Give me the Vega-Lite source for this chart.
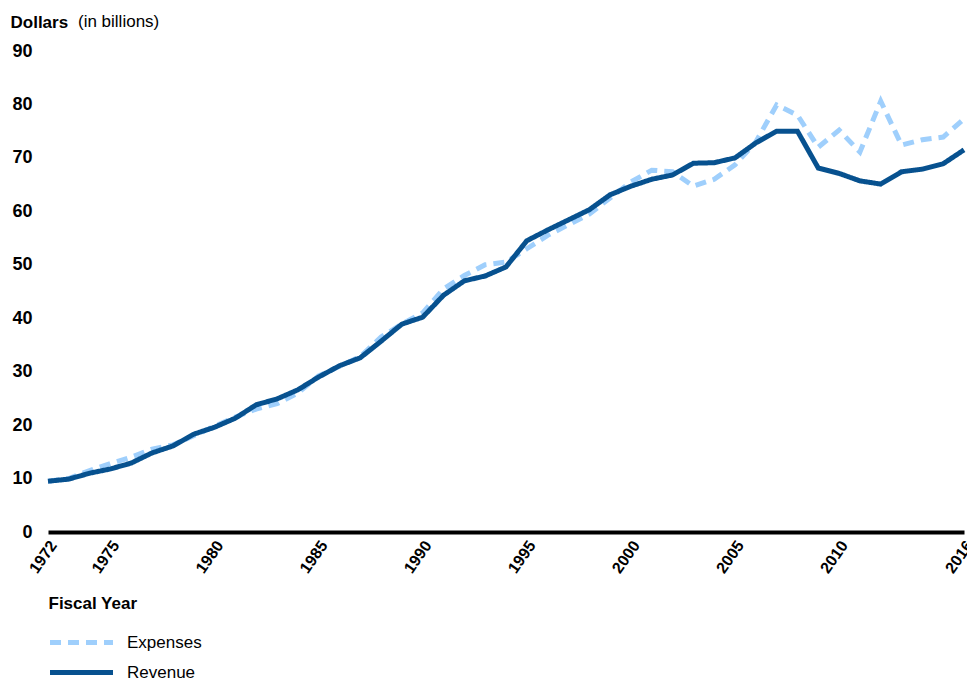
{
  "$schema": "https://vega.github.io/schema/vega-lite/v6.json",
  "autosize": {"type": "none"},
  "padding": {"left": 48, "top": 51, "right": 3, "bottom": 149},
  "width": 916,
  "height": 481,
  "background": "white",
  "title": {"text": "(in billions)", "anchor": "start", "frame": "group", "dx": 30, "offset": -18, "font": "Liberation Sans", "fontSize": 17, "fontWeight": "normal", "color": "#000000"},
  "config": {"view": {"stroke": null}, "font": "Liberation Sans"},
  "data": {"values": [
    {"year": 1972, "series": "Expenses", "value": 9.5},
    {"year": 1973, "series": "Expenses", "value": 10.0},
    {"year": 1974, "series": "Expenses", "value": 11.5},
    {"year": 1975, "series": "Expenses", "value": 12.8},
    {"year": 1976, "series": "Expenses", "value": 14.0},
    {"year": 1977, "series": "Expenses", "value": 15.5},
    {"year": 1978, "series": "Expenses", "value": 16.3},
    {"year": 1979, "series": "Expenses", "value": 18.0},
    {"year": 1980, "series": "Expenses", "value": 19.8},
    {"year": 1981, "series": "Expenses", "value": 21.5},
    {"year": 1982, "series": "Expenses", "value": 23.0},
    {"year": 1983, "series": "Expenses", "value": 24.0},
    {"year": 1984, "series": "Expenses", "value": 26.0},
    {"year": 1985, "series": "Expenses", "value": 29.2},
    {"year": 1986, "series": "Expenses", "value": 31.0},
    {"year": 1987, "series": "Expenses", "value": 32.8},
    {"year": 1988, "series": "Expenses", "value": 36.5},
    {"year": 1989, "series": "Expenses", "value": 38.9},
    {"year": 1990, "series": "Expenses", "value": 41.0},
    {"year": 1991, "series": "Expenses", "value": 45.5},
    {"year": 1992, "series": "Expenses", "value": 48.0},
    {"year": 1993, "series": "Expenses", "value": 50.0},
    {"year": 1994, "series": "Expenses", "value": 50.5},
    {"year": 1995, "series": "Expenses", "value": 53.0},
    {"year": 1996, "series": "Expenses", "value": 55.5},
    {"year": 1997, "series": "Expenses", "value": 57.5},
    {"year": 1998, "series": "Expenses", "value": 59.5},
    {"year": 1999, "series": "Expenses", "value": 62.5},
    {"year": 2000, "series": "Expenses", "value": 65.5},
    {"year": 2001, "series": "Expenses", "value": 67.7},
    {"year": 2002, "series": "Expenses", "value": 67.4},
    {"year": 2003, "series": "Expenses", "value": 64.7},
    {"year": 2004, "series": "Expenses", "value": 66.0},
    {"year": 2005, "series": "Expenses", "value": 68.7},
    {"year": 2006, "series": "Expenses", "value": 73.0},
    {"year": 2007, "series": "Expenses", "value": 79.9},
    {"year": 2008, "series": "Expenses", "value": 78.0},
    {"year": 2009, "series": "Expenses", "value": 72.0},
    {"year": 2010, "series": "Expenses", "value": 75.2},
    {"year": 2011, "series": "Expenses", "value": 71.1},
    {"year": 2012, "series": "Expenses", "value": 80.6},
    {"year": 2013, "series": "Expenses", "value": 72.4},
    {"year": 2014, "series": "Expenses", "value": 73.4},
    {"year": 2015, "series": "Expenses", "value": 73.9},
    {"year": 2016, "series": "Expenses", "value": 77.3},
    {"year": 1972, "series": "Revenue", "value": 9.5},
    {"year": 1973, "series": "Revenue", "value": 9.9},
    {"year": 1974, "series": "Revenue", "value": 11.0},
    {"year": 1975, "series": "Revenue", "value": 11.8},
    {"year": 1976, "series": "Revenue", "value": 12.9},
    {"year": 1977, "series": "Revenue", "value": 14.8},
    {"year": 1978, "series": "Revenue", "value": 16.1},
    {"year": 1979, "series": "Revenue", "value": 18.3},
    {"year": 1980, "series": "Revenue", "value": 19.6},
    {"year": 1981, "series": "Revenue", "value": 21.3},
    {"year": 1982, "series": "Revenue", "value": 23.8},
    {"year": 1983, "series": "Revenue", "value": 24.9},
    {"year": 1984, "series": "Revenue", "value": 26.6},
    {"year": 1985, "series": "Revenue", "value": 29.0},
    {"year": 1986, "series": "Revenue", "value": 31.1},
    {"year": 1987, "series": "Revenue", "value": 32.6},
    {"year": 1988, "series": "Revenue", "value": 35.7},
    {"year": 1989, "series": "Revenue", "value": 38.9},
    {"year": 1990, "series": "Revenue", "value": 40.2},
    {"year": 1991, "series": "Revenue", "value": 44.3},
    {"year": 1992, "series": "Revenue", "value": 47.0},
    {"year": 1993, "series": "Revenue", "value": 47.9},
    {"year": 1994, "series": "Revenue", "value": 49.6},
    {"year": 1995, "series": "Revenue", "value": 54.5},
    {"year": 1996, "series": "Revenue", "value": 56.5},
    {"year": 1997, "series": "Revenue", "value": 58.4},
    {"year": 1998, "series": "Revenue", "value": 60.3},
    {"year": 1999, "series": "Revenue", "value": 63.1},
    {"year": 2000, "series": "Revenue", "value": 64.7},
    {"year": 2001, "series": "Revenue", "value": 66.0},
    {"year": 2002, "series": "Revenue", "value": 66.8},
    {"year": 2003, "series": "Revenue", "value": 69.0},
    {"year": 2004, "series": "Revenue", "value": 69.1},
    {"year": 2005, "series": "Revenue", "value": 70.0},
    {"year": 2006, "series": "Revenue", "value": 72.8},
    {"year": 2007, "series": "Revenue", "value": 75.0},
    {"year": 2008, "series": "Revenue", "value": 75.0},
    {"year": 2009, "series": "Revenue", "value": 68.1},
    {"year": 2010, "series": "Revenue", "value": 67.1},
    {"year": 2011, "series": "Revenue", "value": 65.7},
    {"year": 2012, "series": "Revenue", "value": 65.1},
    {"year": 2013, "series": "Revenue", "value": 67.4},
    {"year": 2014, "series": "Revenue", "value": 67.9},
    {"year": 2015, "series": "Revenue", "value": 68.9},
    {"year": 2016, "series": "Revenue", "value": 71.5}
  ]},
  "mark": {"type": "line", "strokeWidth": 5, "strokeJoin": "miter", "clip": false},
  "encoding": {
    "x": {
      "field": "year", "type": "quantitative",
      "scale": {"domain": [1972, 2016], "nice": false, "zero": false},
      "axis": {
        "values": [1972, 1975, 1980, 1985, 1990, 1995, 2000, 2005, 2010, 2016],
        "format": "d", "grid": false, "ticks": false,
        "domain": true, "domainColor": "#000000", "domainWidth": 4,
        "labelAngle": -55, "labelAlign": "right", "labelBaseline": "middle",
        "labelFont": "Liberation Sans", "labelFontSize": 16, "labelFontWeight": "bold", "labelColor": "#000000",
        "labelPadding": 10, "labelOffset": 5, "labelOverlap": false, "labelFlush": false,
        "title": "Fiscal Year", "titleFont": "Liberation Sans", "titleFontSize": 17, "titleFontWeight": "bold", "titleColor": "#000000",
        "titleAnchor": "start", "titleAlign": "left", "titleX": 0, "titleY": 71, "titleBaseline": "middle"
      }
    },
    "y": {
      "field": "value", "type": "quantitative",
      "scale": {"domain": [0, 90], "nice": false},
      "axis": {
        "values": [0, 10, 20, 30, 40, 50, 60, 70, 80, 90],
        "grid": false, "ticks": false, "domain": false,
        "labelFont": "Liberation Sans", "labelFontSize": 18, "labelFontWeight": "bold", "labelColor": "#000000",
        "labelPadding": 16,
        "title": "Dollars", "titleFont": "Liberation Sans", "titleFontSize": 17, "titleFontWeight": "bold", "titleColor": "#000000",
        "titleAngle": 0, "titleAlign": "left", "titleBaseline": "middle", "titleX": -38, "titleY": -29
      }
    },
    "color": {
      "field": "series", "type": "nominal",
      "scale": {"domain": ["Expenses", "Revenue"], "range": ["#9fcffc", "#07518f"]},
      "legend": {
        "orient": "none", "legendX": 0, "legendY": 583, "title": null,
        "symbolType": "M-3.25,0H28.25", "symbolSize": 16, "symbolStrokeWidth": 5,
        "labelFont": "Liberation Sans", "labelFontSize": 17, "labelColor": "#000000",
        "labelOffset": 62, "rowPadding": 9
      }
    },
    "strokeDash": {
      "field": "series", "type": "nominal",
      "scale": {"domain": ["Expenses", "Revenue"], "range": [[11, 7], [1, 0]]},
      "legend": null
    }
  }
}
